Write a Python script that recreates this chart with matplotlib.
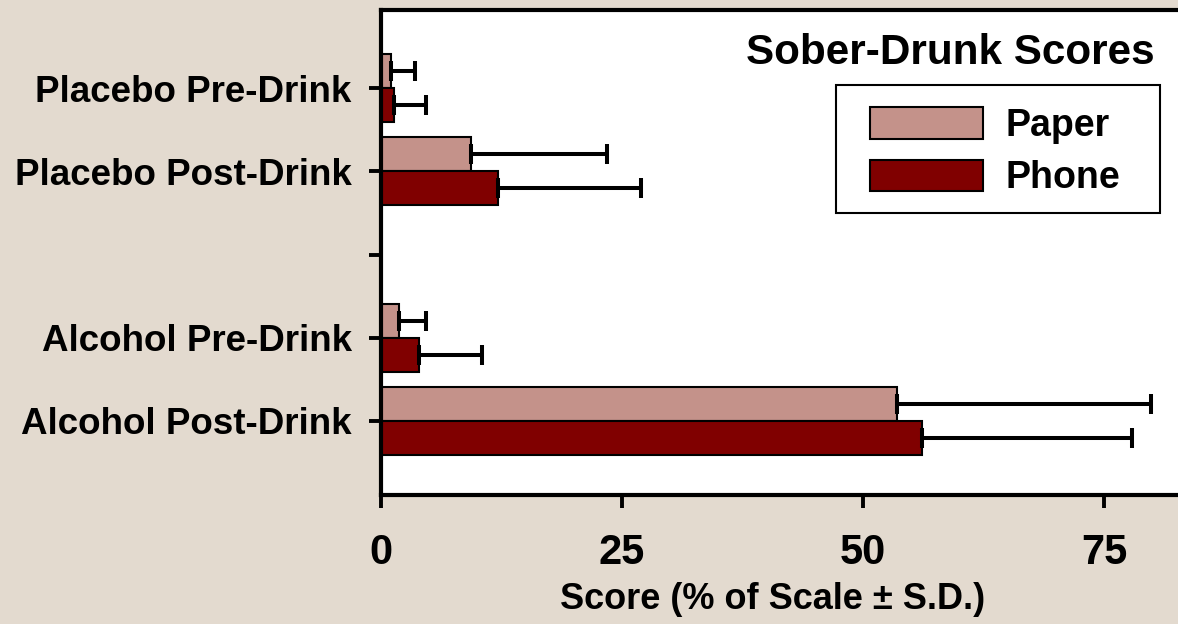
import matplotlib

matplotlib.use("Agg")
import matplotlib.pyplot as plt
import matplotlib.patches as mpatches
import numpy as np

# values (score, % of scale)
categories = ["Placebo Pre-Drink", "Placebo Post-Drink", "", "Alcohol Pre-Drink", "Alcohol Post-Drink"]
slots = [0, 1, 3, 4]
paper = [1.0, 9.3, 1.9, 53.5]
paper_sd = [2.5, 14.1, 2.8, 26.4]
phone = [1.35, 12.1, 3.9, 56.1]
phone_sd = [3.35, 14.9, 6.6, 21.8]
xticks = [0, 25, 50, 75]

bg = "#e3dacf"
c_paper = "#c4928a"
c_phone = "#800000"

plt.rcParams["font.family"] = ["Liberation Sans", "DejaVu Sans"]
plt.rcParams["font.weight"] = "bold"

fig = plt.figure(figsize=(11.78, 6.24), dpi=100)
fig.patch.set_facecolor(bg)
W, H = 1178, 624
left, right, top, bottom = 381, 1192, 10, 495
ax = fig.add_axes([left / W, 1 - bottom / H, (right - left) / W, (bottom - top) / H])
ax.set_facecolor("white")

px_per_unit = (1104 - 381) / 75
ax.set_xlim(0, (right - left) / px_per_unit)
ax.set_ylim(4.89, -0.94)

h = 0.41
y = np.array(slots, dtype=float)
err_kw = dict(ecolor="black", elinewidth=2.9, capsize=7.5, capthick=2.9)
ax.barh(y - h / 2, paper, height=h, color=c_paper, edgecolor="black", linewidth=1.5,
        xerr=[np.zeros(len(paper)), paper_sd], error_kw=err_kw, label="Paper")
ax.barh(y + h / 2, phone, height=h, color=c_phone, edgecolor="black", linewidth=1.5,
        xerr=[np.zeros(len(phone)), phone_sd], error_kw=err_kw, label="Phone")

ax.set_yticks(range(len(categories)))
ax.set_yticklabels(categories, fontsize=26.5, fontweight="bold")
ax.set_xticks(xticks)
ax.set_xticklabels([str(t) for t in xticks], fontsize=30, fontweight="bold")
ax.tick_params(axis="y", length=9, width=2.8, pad=12)
ax.tick_params(axis="x", length=9.5, width=2.8, pad=18)
ax.set_xlabel("Score (% of Scale \u00b1 S.D.)", fontsize=26, fontweight="bold")
ax.xaxis.set_label_coords((773 - left) / (right - left), -(582 - bottom) / (bottom - top))
ax.xaxis.label.set_va("top")

for side in ("left", "bottom", "top", "right"):
    ax.spines[side].set_linewidth(3)

ax.text(1155 / W, 1 - 53 / H, "Sober-Drunk Scores", transform=fig.transFigure,
        ha="right", va="center", fontsize=30.4, fontweight="bold")

# legend box drawn separately to get the wider side padding of the original
frame = mpatches.Rectangle((836 / W, 1 - 213 / H), (1160 - 836) / W, (213 - 85) / H,
                           transform=fig.transFigure, facecolor="white", edgecolor="black",
                           linewidth=1.5, zorder=4, clip_on=False)
ax.add_patch(frame)
leg = ax.legend(loc="upper left", bbox_to_anchor=(870 / W, 1 - 107 / H), bbox_transform=fig.transFigure,
                borderaxespad=0, borderpad=0, handlelength=3.0, handleheight=0.93, handletextpad=0.6,
                labelspacing=0.42, frameon=False, prop={"weight": "bold", "size": 27})
leg.set_zorder(5)

fig.savefig("out.png", dpi=100, facecolor=bg)
